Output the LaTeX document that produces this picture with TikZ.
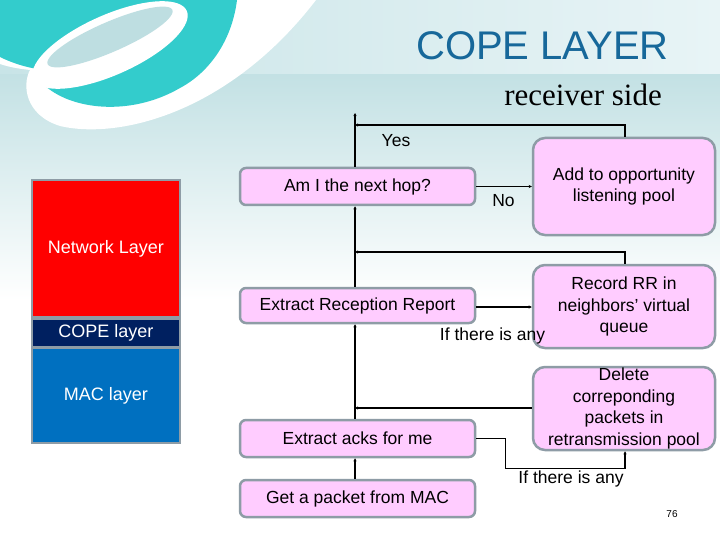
\documentclass[tikz,border=0pt]{standalone}
\usepackage{fontspec}
\setmainfont{Liberation Sans}
\newfontfamily\myserif{Liberation Serif}
\usetikzlibrary{arrows.meta,calc}
\definecolor{bgtopL}{HTML}{C8E4E7}
\definecolor{bgtopR}{HTML}{E8F4F6}
\definecolor{bgmid}{HTML}{C3E1E4}
\definecolor{bginner}{HTML}{BEDEE1}
\definecolor{logoteal}{HTML}{33CCCC}
\definecolor{pinkfill}{HTML}{FFCCFF}
\definecolor{boxgray}{HTML}{8E9CA6}
\definecolor{titleblue}{HTML}{17689A}
\definecolor{netred}{HTML}{FF0000}
\definecolor{copenavy}{HTML}{002060}
\definecolor{macblue}{HTML}{0070C0}
\tikzset{
  flow/.style={draw=boxgray, line width=2.5pt, fill=pinkfill, rounded corners=6pt,
    minimum width=235pt, minimum height=37pt, inner sep=0pt, align=center,
    font=\fontsize{17.5}{21.5}\selectfont},
  bigflow/.style={flow, rounded corners=12pt, minimum width=182pt},
  conn/.style={line width=1.3pt, -{Stealth[length=3pt,width=3pt]}},
  layer/.style={inner sep=0pt, text=white, font=\fontsize{18}{22}\selectfont,
    minimum width=146pt},
  lbl/.style={anchor=base, inner sep=0pt, font=\fontsize{17.5}{21.5}\selectfont}
}
\begin{document}
\begin{tikzpicture}[x=1pt,y=-1pt]
\useasboundingbox (0,0) rectangle (720,540);
% background
\fill[white] (0,0) rectangle (720,540);
\shade[left color=bgtopL, right color=bgtopR] (0,0) rectangle (720,75);
\shade[top color=bgmid, bottom color=white] (0,75) rectangle (720,300);
% logo
\fill[white] (0,0) -- (0,64) .. controls (12,68) and (22,69) .. (30,70)
  .. controls (22,85) and (25,115) .. (60,126)
  .. controls (120,140) and (230,112) .. (316,0) -- cycle;
\fill[logoteal] (0,0) -- (0,57) .. controls (10,62) and (22,66) .. (32,68) -- (55,72) -- (43,84)
  .. controls (70,110) and (130,117) .. (180,88)
  .. controls (210,72) and (232,40) .. (237,0) -- cycle;
\fill[white] plot[domain=0:355, samples=72, smooth cycle, variable=\t]
  ({110+84*cos(\t)*cos(24)+30*sin(\t)*sin(24)}, {45-84*cos(\t)*sin(24)+30*sin(\t)*cos(24)});
\fill[bginner] plot[domain=0:355, samples=72, smooth cycle, variable=\t]
  ({110+68*cos(\t)*cos(23.5)+15*sin(\t)*sin(23.5)}, {37-68*cos(\t)*sin(23.5)+15*sin(\t)*cos(23.5)});
% titles
\node[anchor=base, inner sep=0pt, text=titleblue, font=\fontsize{40}{46}\selectfont] (title) at (542.5,60) {COPE LAYER};
\node[anchor=base, inner sep=0pt, font=\myserif\fontsize{31}{36}\selectfont] (sub) at (583,106) {receiver side};
% layer stack
\node[fill=boxgray, minimum width=150pt, minimum height=265pt, inner sep=0pt] (stack) at (106,311.5) {};
\node[layer, fill=netred, minimum height=135pt] (net) at (106,248.5) {Network Layer};
\node[layer, fill=copenavy, minimum height=26pt] (cope) at (106,333) {COPE layer};
\node[layer, fill=macblue, minimum height=93pt] (mac) at (106,395.5) {MAC layer};
% flow boxes
\node[flow] (am) at (357.5,186.5) {Am I the next hop?};
\node[bigflow, minimum height=97pt] (add) at (624,186.5) {Add to opportunity\\listening pool};
\node[flow, minimum height=35pt] (err) at (357.5,305.5) {Extract Reception Report};
\node[bigflow, minimum height=83pt] (rec) at (624,306.5) {Record RR in\\neighbors’ virtual\\queue};
\node[flow] (acks) at (357.5,438.5) {Extract acks for me};
\node[bigflow, minimum height=83pt] (del) at (624,408.5) {Delete\\correponding\\packets in\\retransmission pool};
\node[flow] (get) at (357.5,498.5) {Get a packet from MAC};
% helper coordinates
\coordinate (vx) at (355,0);
\coordinate (cx) at (625,0);
\coordinate (topend) at (355,113);
\coordinate (j1) at (355,125);
\coordinate (j2) at (355,252);
\coordinate (j3) at (355,408);
% connectors
\draw[conn] (get.north -| vx) -- (acks.south -| vx);
\draw[conn] (acks.north -| vx) -- (err.south -| vx);
\draw[conn] (del.west |- j3) -- (j3);
\draw[conn] (acks.east) -- ++(29,0) -- ++(0,30) -| (del.south -| cx);
\draw[conn] (err.north -| vx) -- (am.south -| vx);
\draw[conn] (rec.north -| cx) |- (j2);
\draw[conn] ([yshift=-1.5pt]err.east) -- ([yshift=-1.5pt]err.east -| rec.west);
\draw[conn] (am.north -| vx) -- (topend);
\draw[conn] (add.north -| cx) |- (j1);
\draw[conn] (am.east) -- (am.east -| add.west);
% labels
\node[lbl] (yes) at (396,147) {Yes};
\node[lbl] (no) at (503.5,207) {No};
\node[lbl] (if1) at (492.5,340) {If there is any};
\node[lbl] (if2) at (571,483) {If there is any};
\node[anchor=base, inner sep=0pt, font=\fontsize{10}{12}\selectfont] (pg) at (672,517) {76};
\end{tikzpicture}
\end{document}
